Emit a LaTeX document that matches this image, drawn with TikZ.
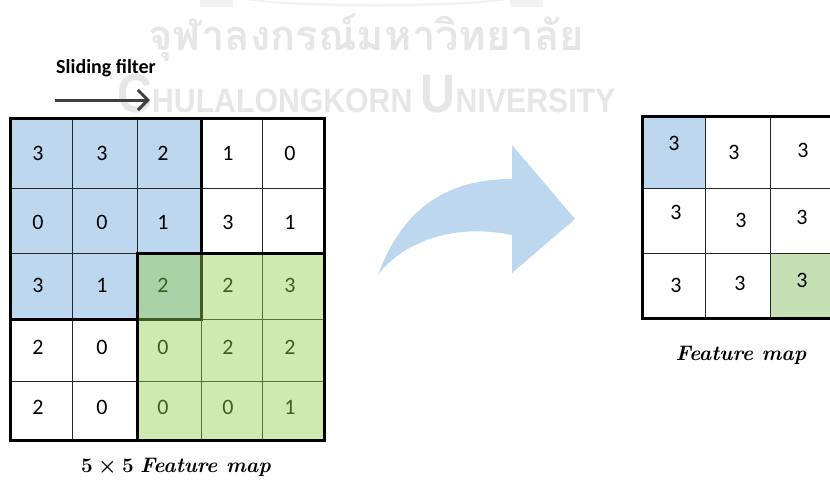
\documentclass[tikz,border=0pt]{standalone}
\usepackage{fontspec}
\newfontfamily\calibri{Carlito}
\newfontfamily\thaifont[Script=Thai]{Loma}
\newfontfamily\wmfont{Liberation Sans}
\usetikzlibrary{arrows.meta}
\definecolor{cellblue}{HTML}{BDD7EE}
\definecolor{overgreen}{HTML}{92D050}
\definecolor{cellgreen}{HTML}{C5E0B4}
\definecolor{arrowgray}{HTML}{404040}
\definecolor{wmgray}{HTML}{E6E6E6}
\definecolor{wmlight}{HTML}{F2F2F2}
\begin{document}
\begin{tikzpicture}[x=1pt,y=-1pt,
  num/.style={font=\calibri\fontsize{22}{22}\selectfont, inner sep=0pt},
  thinline/.style={line width=1pt, draw=black!85},
  thickline/.style={line width=3pt, draw=black, line join=miter},
  capstyle/.style={inner sep=0pt, font=\fontsize{21}{21}\selectfont}]
\useasboundingbox (0,0) rectangle (830,488);
\clip (0,0) rectangle (830,488);
% ---------- watermark ----------
\fill[wmlight] (200,0) rectangle (233,7);
\fill[wmlight] (510,0) rectangle (543,7);
\fill[wmlight] (247,0) .. controls (300,9) and (450,9) .. (507,0) -- (490,0) .. controls (440,5) and (310,5) .. (262,0) -- cycle;
\node[anchor=base west, inner sep=0pt, text=wmgray] (wm-th) at (148,50)
  {\resizebox{436pt}{!}{\thaifont\bfseries จุฬาลงกรณ์มหาวิทยาลัย}};
\node[anchor=base west, inner sep=0pt, text=wmgray] (wm-en) at (117,112)
  {\resizebox{498pt}{38pt}{\wmfont\bfseries{\fontsize{16}{16}\selectfont C}{\fontsize{10}{10}\selectfont HULALONGKORN} {\fontsize{16}{16}\selectfont U}{\fontsize{10}{10}\selectfont NIVERSITY}}};
% ---------- sliding filter ----------
\node[anchor=base, inner sep=0pt, font=\calibri\bfseries\fontsize{20}{20}\selectfont] (sf) at (106,73) {Sliding filter};
\coordinate (sfA) at (55,100);
\coordinate (sfB) at (150,100);
\draw[line width=3pt, arrowgray, -{Straight Barb[length=10pt,width=20pt]}] (sfA) -- (sfB);
% ---------- left grid ----------
\fill[cellblue] (10,118) rectangle (201,319);
\foreach \x in {72,137,201,262} \draw[thinline] (\x,118) -- (\x,440);
\foreach \y in {188,253,319,381} \draw[thinline] (10,\y) -- (324,\y);
\foreach \r/\y/\vals in {0/153/{3,3,2,1,0},1/222/{0,0,1,3,1},2/285/{3,1,2,2,3},3/347/{2,0,0,2,2},4/407/{2,0,0,0,1}}{
  \foreach \v [count=\c from 0] in \vals {
    \pgfmathsetmacro\xx{{38,102,163,228,290}[\c]}
    \node[num] (l-\r-\c) at (\xx,\y) {\v};
  }
}
\draw[thickline] (10,118) rectangle (201,319);
\fill[overgreen, fill opacity=0.45] (137,253) rectangle (324,440);
\draw[thickline] (137,253) rectangle (324,440);
\draw[thickline] (10,118) rectangle (324,440);
\node[anchor=base, capstyle] (lcap) at (176,472) {{\boldmath$5\times5$}~\textbf{\textit{Feature map}}};
% ---------- curved arrow ----------
\fill[cellblue] (378,275) .. controls (400,215) and (440,179) .. (512,179)
  -- (512,145) -- (575,219) -- (512,273) -- (512,235)
  .. controls (450,222) and (400,245) .. (378,275) -- cycle;
% ---------- right grid ----------
\fill[cellblue] (642,116) rectangle (705,188);
\fill[cellgreen] (770,253) rectangle (835,318);
\foreach \x in {705,770} \draw[thinline] (\x,116) -- (\x,318);
\foreach \y in {188,253} \draw[thinline] (642,\y) -- (835,\y);
\draw[thickline] (642,116) rectangle (835,318);
\node[num] (r-0-0) at (674,143) {3};
\node[num] (r-0-1) at (734,152) {3};
\node[num] (r-0-2) at (803,150) {3};
\node[num] (r-1-0) at (676,212) {3};
\node[num] (r-1-1) at (741,220) {3};
\node[num] (r-1-2) at (802,217) {3};
\node[num] (r-2-0) at (676,285) {3};
\node[num] (r-2-1) at (740,283) {3};
\node[num] (r-2-2) at (802,280) {3};
\node[anchor=base, capstyle] (rcap) at (741,360) {\textbf{\textit{Feature map}}};
\end{tikzpicture}
\end{document}
